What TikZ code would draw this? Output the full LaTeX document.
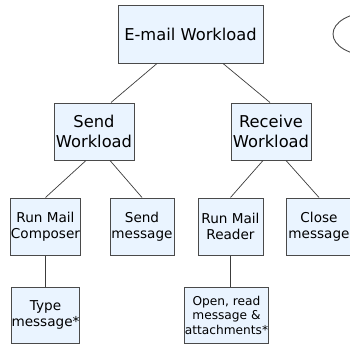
\documentclass[tikz,border=0pt]{standalone}
\usepackage{fontspec}
\setmainfont{DejaVu Sans}
\usepackage{tikz}
\usetikzlibrary{positioning, calc}
\definecolor{BoxFill}{HTML}{EAF4FF}
\definecolor{BoxLine}{HTML}{4A4A4A}
\definecolor{LinkLine}{HTML}{3C3C3C}

\begin{document}
\begin{tikzpicture}[x=1pt, y=-1pt,
    task/.style={rectangle, draw=BoxLine, line width=1pt, fill=BoxFill,
                 inner sep=0pt, align=center, text=black},
    bigtask/.style={task, font=\fontsize{16.3}{20}\selectfont},
    smalltask/.style={task, font=\fontsize{13.6}{16.5}\selectfont},
    link/.style={draw=LinkLine, line width=0.7pt}]
    \clip (0,0) rectangle (350,345);

    % Top of the tree
    \node[bigtask, minimum width=145pt, minimum height=57pt] (workload) at (190.5,34.5) {E-mail Workload};
    \draw[BoxLine, line width=0.9pt] (370,34) ellipse (37pt and 21.5pt);

    % Second level
    \node[bigtask, minimum width=80pt, minimum height=57pt] (send) at (94,131.5) {Send\\Workload};
    \node[bigtask, minimum width=80pt, minimum height=57pt] (receive) at (271,131.5) {Receive\\Workload};

    % Third level
    \node[smalltask, minimum width=65pt, minimum height=57pt] (composer) at (45.5,226.5) {Run Mail\\Composer};
    \node[smalltask, minimum width=64pt, minimum height=57pt] (sendmsg) at (142,226.5) {Send\\message};
    \node[smalltask, minimum width=65pt, minimum height=57pt] (reader) at (230.5,226.5) {Run Mail\\Reader};
    \node[smalltask, minimum width=65pt, minimum height=57pt] (closemsg) at (319,226.5) {Close\\message};

    % Leaves
    \node[smalltask, minimum width=65pt, minimum height=56pt] (typemsg) at (45.5,315) {Type\\message*};
    \node[task, font=\fontsize{12.2}{14.5}\selectfont, minimum width=73pt, minimum height=56pt]
        (openread) at (226.5,315) {Open, read\\message \&\\attachments*};

    % Links
    \draw[link] ([xshift=-33.5pt]workload.south) -- ([xshift=17pt]send.north);
    \draw[link] ([xshift=32.5pt]workload.south) -- ([xshift=-1pt]receive.north);
    \draw[link] ([xshift=-8pt]send.south) -- (composer.north);
    \draw[link] ([xshift=16pt]send.south) -- (sendmsg.north);
    \draw[link] ([xshift=-8pt]receive.south) -- (reader.north);
    \draw[link] ([xshift=15pt]receive.south) -- (closemsg.north);
    \draw[link] (composer.south) -- (typemsg.north);
    \draw[link] (reader.south) -- ([xshift=4pt]openread.north);
\end{tikzpicture}
\end{document}
